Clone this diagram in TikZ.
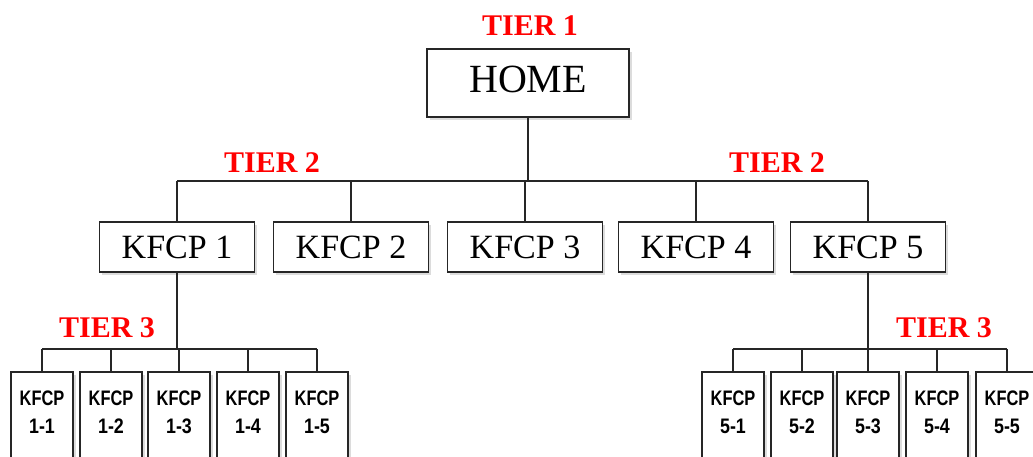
\documentclass[tikz,border=0pt]{standalone}
\usepackage{fontspec}
\usepackage{graphicx}
\setmainfont{Liberation Serif}
\newfontfamily\tsans{Liberation Sans}
\usetikzlibrary{shadows}
\begin{document}
\begin{tikzpicture}[x=1pt,y=-1pt,
  conn/.style={draw=black!85, line width=1.7pt},
  box/.style={draw=black!85, line width=1.5pt, fill=white, inner sep=0pt,
    drop shadow={opacity=0.3, shadow xshift=2.5pt, shadow yshift=-3pt, fill=black!45}},
  homebox/.style={box, minimum width=202pt, minimum height=68pt,
    font=\fontsize{40}{40}\selectfont, text height=27pt, text depth=9pt},
  tbox/.style={box, minimum width=155pt, minimum height=50pt,
    font=\fontsize{34}{34}\selectfont},
  sbox/.style={box, minimum width=62pt, minimum height=100pt, anchor=north},
  stext/.style={font=\tsans\bfseries\fontsize{21}{28}\selectfont, align=center,
    inner sep=0pt, anchor=north},
  tier/.style={text=red, font=\bfseries\fontsize{30}{30}\selectfont, inner sep=0pt}]
\clip (0,0) rectangle (1033,456);
\useasboundingbox (0,0) rectangle (1033,456);

% labels
\node[tier] (tier1) at (530,26) {TIER 1};
\node[tier] (tier2l) at (272,163) {TIER 2};
\node[tier] (tier2r) at (777,163) {TIER 2};
\node[tier] (tier3l) at (107,328) {TIER 3};
\node[tier] (tier3r) at (944,328) {TIER 3};

% tier 1
\node[homebox] (home) at (528,83) {HOME};

% tier 2
\node[tbox] (k1) at (177,247) {KFCP 1};
\node[tbox] (k2) at (351,247) {KFCP 2};
\node[tbox] (k3) at (525,247) {KFCP 3};
\node[tbox] (k4) at (696,247) {KFCP 4};
\node[tbox] (k5) at (868,247) {KFCP 5};

% tier 3 left
\foreach \i/\x in {1/42,2/111,3/179,4/248,5/317}{
  \node[sbox] (a\i) at (\x,371) {};
  \node[stext] (at\i) at (\x,391) {\scalebox{0.78}[1]{KFCP}\\\scalebox{0.85}[1]{1-\i}};
}
% tier 3 right
\foreach \i/\x in {1/733,2/802,3/868,4/937,5/1007}{
  \node[sbox] (b\i) at (\x,371) {};
  \node[stext] (bt\i) at (\x,391) {\scalebox{0.78}[1]{KFCP}\\\scalebox{0.85}[1]{5-\i}};
}

% connectors
\coordinate (t2) at (0,181);
\coordinate (t3) at (0,349);
\draw[conn] (home.south) -- (home.south |- t2);
\draw[conn] (k1.north |- t2) -- (k5.north |- t2);
\foreach \i in {1,...,5}{
  \draw[conn] (k\i.north |- t2) -- (k\i.north);
}
\draw[conn] (k1.south) -- (k1.south |- t3);
\draw[conn] (a1.north |- t3) -- (a5.north |- t3);
\draw[conn] (k5.south) -- (k5.south |- t3);
\draw[conn] (b1.north |- t3) -- (b5.north |- t3);
\foreach \i in {1,...,5}{
  \draw[conn] (a\i.north |- t3) -- (a\i.north);
  \draw[conn] (b\i.north |- t3) -- (b\i.north);
}
\end{tikzpicture}
\end{document}
